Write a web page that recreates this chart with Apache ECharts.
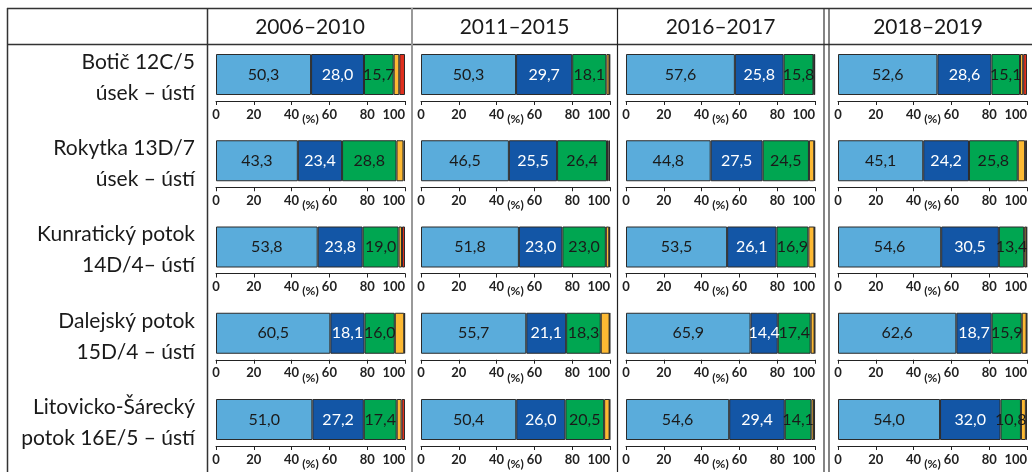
<!DOCTYPE html>
<html>
<head>
<meta charset="utf-8">
<script src="https://cdn.jsdelivr.net/npm/echarts@6/dist/echarts.min.js"></script>
<style>
  html, body { margin: 0; padding: 0; background: #fff; }
  #chart { width: 1032px; height: 472px; }
</style>
</head>
<body>
<div id="chart"></div>
<script>
// období (sloupce) a profily (řádky)
var periods = ["2006–2010", "2011–2015", "2016–2017", "2018–2019"];
var sites = [
  ["Botič 12C/5", "úsek – ústí"],
  ["Rokytka 13D/7", "úsek – ústí"],
  ["Kunratický potok", "14D/4– ústí"],
  ["Dalejský potok", "15D/4 – ústí"],
  ["Litovicko-Šárecký", "potok 16E/5 – ústí"]
];

// podíly tříd v %, řádek = profil, pořadí sloupců = periods
var classI = [
  [50.3, 50.3, 57.6, 52.6],
  [43.3, 46.5, 44.8, 45.1],
  [53.8, 51.8, 53.5, 54.6],
  [60.5, 55.7, 65.9, 62.6],
  [51.0, 50.4, 54.6, 54.0]
];
var classII = [
  [28.0, 29.7, 25.8, 28.6],
  [23.4, 25.5, 27.5, 24.2],
  [23.8, 23.0, 26.1, 30.5],
  [18.1, 21.1, 14.4, 18.7],
  [27.2, 26.0, 29.4, 32.0]
];
var classIII = [
  [15.7, 18.1, 15.8, 15.1],
  [28.8, 26.4, 24.5, 25.8],
  [19.0, 23.0, 16.9, 13.4],
  [16.0, 18.3, 17.4, 15.9],
  [17.4, 20.5, 14.1, 10.8]
];
var classIV = [
  [3.0, 1.6, 0.4, 1.7],
  [3.7, 0.9, 2.8, 3.9],
  [1.8, 1.8, 3.2, 1.2],
  [5.0, 4.7, 2.1, 2.6],
  [2.6, 2.9, 1.4, 2.6]
];
var classV = [
  [3.0, 0.3, 0.4, 2.0],
  [0.8, 0.7, 0.4, 1.0],
  [1.6, 0.4, 0.3, 0.3],
  [0.4, 0.2, 0.2, 0.2],
  [1.8, 0.2, 0.5, 0.6]
];

var classes = [classI, classII, classIII, classIV, classV];
var classNames = ["I", "II", "III", "IV", "V"];
var colors = ["#5aacdb", "#1356a6", "#00a651", "#fdb933", "#e0301e"];
var labelColors = ["#1a1a1a", "#ffffff", "#1a1a1a"];

var font = "Lato, 'Open Sans', sans-serif";
var colLeft = [216, 421, 626, 838];
var barW = 189;
var rowTop = 54;
var rowStep = 86.25;
var barH = 41;

function fmt(v) {
  return v.toFixed(1).replace(".", ",");
}

var grids = [], xAxes = [], yAxes = [], series = [];

for (var r = 0; r < sites.length; r++) {
  for (var c = 0; c < periods.length; c++) {
    var g = r * periods.length + c;
    grids.push({
      left: colLeft[c],
      top: rowTop + r * rowStep,
      width: barW,
      height: barH
    });
    xAxes.push({
      type: "value",
      gridIndex: g,
      min: 0,
      max: 100,
      interval: 20,
      offset: 6,
      name: "(%)",
      nameLocation: "middle",
      nameGap: 12,
      nameMoveOverlap: false,
      nameTextStyle: { fontFamily: font, fontSize: 12, color: "#222", fontWeight: "bold" },
      axisLine: { show: true, lineStyle: { color: "#222", width: 1 } },
      axisTick: { show: true, length: 4, lineStyle: { color: "#222" } },
      splitLine: { show: false },
      axisLabel: {
        fontFamily: font, fontSize: 13, color: "#222", fontWeight: "bold",
        margin: 7, alignMaxLabel: "right"
      }
    });
    yAxes.push({
      type: "category",
      gridIndex: g,
      data: [sites[r][0]],
      show: false
    });
    for (var k = 0; k < classes.length; k++) {
      series.push({
        type: "bar",
        name: classNames[k],
        xAxisIndex: g,
        yAxisIndex: g,
        stack: "s" + g,
        barWidth: "100%",
        data: [classes[k][r][c]],
        itemStyle: { color: colors[k], borderColor: "#2b2b2b", borderWidth: 1 },
        label: {
          show: k < 3,
          position: "inside",
          fontFamily: font,
          fontSize: 16,
          color: labelColors[k] || "#000",
          formatter: function (p) { return fmt(p.value); }
        },
        silent: true,
        animation: false
      });
    }
  }
}

// mřížka tabulky, záhlaví a názvy profilů
var graphics = [];
function hline(y, x1, x2, color, w) {
  graphics.push({ type: "line", shape: { x1: x1, y1: y, x2: x2, y2: y }, style: { stroke: color, lineWidth: w } });
}
function vline(x, y1, y2, color, w) {
  graphics.push({ type: "line", shape: { x1: x, y1: y1, x2: x, y2: y2 }, style: { stroke: color, lineWidth: w } });
}
hline(8.5, 7, 1032, "#333", 1.5);
hline(44.5, 7, 1032, "#333", 1.5);
vline(7.5, 8, 472, "#333", 1.5);
vline(207.5, 8, 472, "#333", 1.5);
vline(412, 8, 472, "#999", 2);
vline(617.5, 8, 472, "#222", 1.2);
vline(824, 8, 472, "#333", 1.2);
vline(829, 8, 472, "#333", 1.2);

var headCenters = [310, 514.5, 720.5, 928];
periods.forEach(function (p, i) {
  graphics.push({
    type: "text", x: headCenters[i], y: 27,
    style: { text: p, font: "21px " + font, fill: "#1a1a1a", textAlign: "center", textVerticalAlign: "middle" }
  });
});
sites.forEach(function (s, i) {
  var y0 = 62 + i * rowStep;
  graphics.push({
    type: "text", x: 195, y: y0,
    style: { text: s[0], font: "21px " + font, fill: "#1a1a1a", textAlign: "right", textVerticalAlign: "middle" }
  });
  graphics.push({
    type: "text", x: 195, y: y0 + 31,
    style: { text: s[1], font: "21px " + font, fill: "#1a1a1a", textAlign: "right", textVerticalAlign: "middle" }
  });
});

var chart = echarts.init(document.getElementById("chart"));
chart.setOption({
  animation: false,
  grid: grids,
  xAxis: xAxes,
  yAxis: yAxes,
  series: series,
  graphic: graphics
});
</script>
</body>
</html>
